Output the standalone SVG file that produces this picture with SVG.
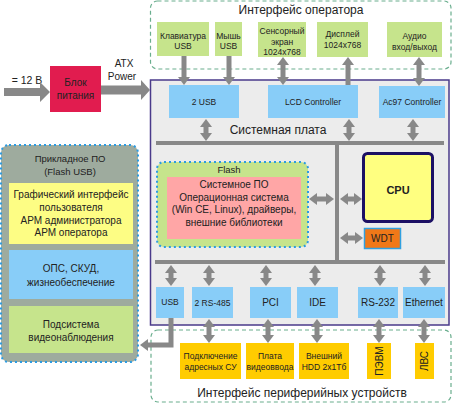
<svg xmlns="http://www.w3.org/2000/svg" width="453" height="404" viewBox="0 0 453 404">
<defs>
<marker id="ah" markerUnits="userSpaceOnUse" markerWidth="8" markerHeight="12" refX="0" refY="6" orient="auto-start-reverse" viewBox="0 0 8 12"><path d="M0,0 L8,6 L0,12 z" fill="#888"/></marker>
<style>
text{font-family:"Liberation Sans",Arial,sans-serif;fill:#222;text-anchor:middle}
.s{font-size:8.5px}
.m{font-size:10px}
.l{font-size:12px}
.g{fill:#c6e48c}
.b{fill:#88cdf8}
.y{fill:#ffcc00}
.ar{stroke:#888;stroke-width:5;fill:none}
.bus{stroke:#888;stroke-width:4;fill:none}
.dash{fill:#fff;stroke:#6aae8e;stroke-width:1.2;stroke-dasharray:4 3}
.dot{stroke:#2b9be2;stroke-width:2;stroke-dasharray:2 3}
</style>
</defs>
<rect width="453" height="404" fill="#fff"/>
<g id="operator-interface">
<rect class="dash" x="150.5" y="1" width="300.5" height="68" rx="7"/>
<text class="l" x="301" y="14">Интерфейс оператора</text>
</g>
<g id="peripheral-interface">
<rect class="dash" x="151" y="330" width="300" height="72" rx="7"/>
<text class="l" x="302" y="397">Интерфейс периферийных устройств</text>
</g>
<g id="board">
<rect x="150.5" y="80" width="298.5" height="245" fill="#ececec" stroke="#4a3a8a" stroke-width="1.5"/>
<text class="l" x="278" y="134">Системная плата</text>
</g>
<g id="keyboard"><rect class="g" x="157" y="22" width="52" height="34"/><text class="s" x="183" y="39">Клавиатура</text><text class="s" x="183" y="49">USB</text></g>
<g id="mouse"><rect class="g" x="215" y="22" width="27" height="34"/><text class="s" x="228.5" y="39">Мышь</text><text class="s" x="228.5" y="49">USB</text></g>
<g id="touch"><rect class="g" x="258" y="22" width="48" height="35"/><text class="s" x="282" y="34">Сенсорный</text><text class="s" x="282" y="44.5">экран</text><text class="s" x="282" y="55">1024x768</text></g>
<g id="display"><rect class="g" x="317" y="22" width="51" height="35"/><text class="s" x="342.5" y="37">Дисплей</text><text class="s" x="342.5" y="48">1024x768</text></g>
<g id="audio"><rect class="g" x="387" y="22" width="55" height="35"/><text class="s" x="414.5" y="39">Аудио</text><text class="s" x="414.5" y="50">вход/выход</text></g>
<g id="power-in"><text style="font-size:10.5px" x="27" y="84">= 12 В</text></g>
<g id="psu"><rect x="50" y="66" width="51" height="46" fill="#e11c4f"/><text class="m" x="75.5" y="86">Блок</text><text class="m" x="75.5" y="98.5">питания</text></g>
<g id="atx-label"><text class="m" x="124" y="67">ATX</text><text class="m" x="122" y="80">Power</text></g>
<g id="usb2"><rect class="b" x="169" y="85" width="70" height="33"/><text class="s" x="204" y="105">2 USB</text></g>
<g id="lcd"><rect class="b" x="268" y="85" width="90" height="33"/><text class="s" x="313" y="105">LCD Controller</text></g>
<g id="ac97"><rect class="b" x="379" y="86" width="66" height="32"/><text class="s" x="412" y="105">Ac97 Controller</text></g>
<g id="flash">
<rect x="157" y="162" width="151" height="85" rx="7" fill="#c6e48c" class="dot"/>
<text style="font-size:9.5px" x="229" y="173">Flash</text>
<rect x="167" y="177" width="134" height="62" fill="#ffa6a6"/>
<text class="m" x="234" y="188">Системное ПО</text>
<text class="m" x="234" y="200.5">Операционная система</text>
<text class="m" x="234" y="213">(Win CE, Linux), драйверы,</text>
<text class="m" x="234" y="225.5">внешние библиотеки</text>
</g>
<g id="cpu"><rect x="363.5" y="153.5" width="69" height="68" rx="4" fill="#ffff80" stroke="#1c1064" stroke-width="3"/><text x="398" y="194" style="font-size:11px;font-weight:bold">CPU</text></g>
<g id="wdt"><rect x="364.5" y="228.5" width="36" height="20" fill="#f07818" stroke="#30a0e0" stroke-width="1.5"/><text class="m" x="382.5" y="242">WDT</text></g>
<g id="usb"><rect class="b" x="156" y="287" width="28" height="31"/><text class="s" x="170" y="305">USB</text></g>
<g id="rs485"><rect class="b" x="192" y="287" width="41" height="31"/><text class="s" x="212.5" y="306">2 RS-485</text></g>
<g id="pci"><rect class="b" x="250" y="287" width="41" height="31"/><text class="m" x="270.5" y="306">PCI</text></g>
<g id="ide"><rect class="b" x="297" y="287" width="41" height="31"/><text class="m" x="317.5" y="306">IDE</text></g>
<g id="rs232"><rect class="b" x="358" y="287" width="40" height="31"/><text class="m" x="378" y="306">RS-232</text></g>
<g id="ethernet"><rect class="b" x="403" y="287" width="42" height="31"/><text class="m" x="424" y="306">Ethernet</text></g>
<g id="addr"><rect class="y" x="180" y="343" width="61" height="36"/><text class="s" x="210.5" y="359">Подключение</text><text class="s" x="210.5" y="370">адресных СУ</text></g>
<g id="video-in"><rect class="y" x="246" y="343" width="48" height="36"/><text class="s" x="270" y="359">Плата</text><text class="s" x="270" y="370">видеоввода</text></g>
<g id="hdd"><rect class="y" x="299" y="343" width="50" height="36"/><text class="s" x="324" y="359">Внешний</text><text class="s" x="324" y="370">HDD 2x1Тб</text></g>
<g id="pc"><rect class="y" x="367" y="343" width="24" height="36"/><text class="m" transform="translate(382.5,361) rotate(-90)">ПЭВМ</text></g>
<g id="lan"><rect class="y" x="415" y="343" width="19" height="36"/><text class="m" transform="translate(428,361) rotate(-90)">ЛВС</text></g>
<g id="app">
<rect x="1" y="145" width="137" height="217" rx="8" fill="#9eab9e" class="dot"/>
<text style="font-size:9.5px" x="70" y="161.5">Прикладное ПО</text>
<text style="font-size:9.5px" x="70" y="174.5">(Flash USB)</text>
<rect x="9" y="183" width="124" height="61" fill="#fdfd84"/>
<text class="m" x="71" y="197.5">Графический интерфейс</text>
<text class="m" x="71" y="210.5">пользователя</text>
<text class="m" x="71" y="223.5">АРМ администратора</text>
<text class="m" x="71" y="236">АРМ оператора</text>
<rect class="b" x="9" y="250" width="124" height="49"/>
<text class="m" x="71" y="271.5">ОПС, СКУД,</text>
<text class="m" x="71" y="285.5">жизнеобеспечение</text>
<rect class="g" x="9" y="306" width="124" height="47"/>
<text class="m" x="71" y="327.5">Подсистема</text>
<text class="m" x="71" y="341">видеонаблюдения</text>
</g>
<g id="connectors">
<polygon points="4,88 40,88 40,82 50,92 40,102 40,96 4,96" fill="#888"/>
<polygon points="101,85.5 141,85.5 141,80 150,90 141,100 141,94.5 101,94.5" fill="#888"/>
<line class="ar" x1="184" y1="56" x2="184" y2="77" marker-end="url(#ah)"/>
<line class="ar" x1="229" y1="56" x2="229" y2="77" marker-end="url(#ah)"/>
<line class="ar" x1="283" y1="65" x2="283" y2="77" marker-start="url(#ah)" marker-end="url(#ah)"/>
<line class="ar" x1="348" y1="85" x2="348" y2="65" marker-end="url(#ah)"/>
<line class="ar" x1="419" y1="65" x2="419" y2="78" marker-start="url(#ah)" marker-end="url(#ah)"/>
<path class="bus" d="M156,143 H444 M337,143 V262 M155,262 H445"/>
<line class="ar" x1="206" y1="127" x2="206" y2="133" marker-start="url(#ah)" marker-end="url(#ah)"/>
<line class="ar" x1="349" y1="127" x2="349" y2="133" marker-start="url(#ah)" marker-end="url(#ah)"/>
<line class="ar" x1="413" y1="127" x2="413" y2="133" marker-start="url(#ah)" marker-end="url(#ah)"/>
<line class="ar" x1="317" y1="199" x2="326" y2="199" marker-start="url(#ah)" marker-end="url(#ah)"/>
<line class="ar" x1="348" y1="199" x2="354" y2="199" marker-start="url(#ah)" marker-end="url(#ah)"/>
<line class="ar" x1="348" y1="238" x2="355" y2="238" marker-start="url(#ah)" marker-end="url(#ah)"/>
<line class="ar" x1="171" y1="273" x2="171" y2="278" marker-start="url(#ah)" marker-end="url(#ah)"/>
<line class="ar" x1="209" y1="273" x2="209" y2="278" marker-start="url(#ah)" marker-end="url(#ah)"/>
<line class="ar" x1="266" y1="273" x2="266" y2="278" marker-start="url(#ah)" marker-end="url(#ah)"/>
<line class="ar" x1="315" y1="273" x2="315" y2="278" marker-start="url(#ah)" marker-end="url(#ah)"/>
<line class="ar" x1="380" y1="273" x2="380" y2="278" marker-start="url(#ah)" marker-end="url(#ah)"/>
<line class="ar" x1="425" y1="273" x2="425" y2="278" marker-start="url(#ah)" marker-end="url(#ah)"/>
<line class="ar" x1="209" y1="327" x2="209" y2="335" marker-start="url(#ah)" marker-end="url(#ah)"/>
<line class="ar" x1="268" y1="327" x2="268" y2="335" marker-start="url(#ah)" marker-end="url(#ah)"/>
<line class="ar" x1="317" y1="327" x2="317" y2="335" marker-start="url(#ah)" marker-end="url(#ah)"/>
<line class="ar" x1="379" y1="327" x2="379" y2="335" marker-start="url(#ah)" marker-end="url(#ah)"/>
<line class="ar" x1="424" y1="327" x2="424" y2="335" marker-start="url(#ah)" marker-end="url(#ah)"/>
<path class="ar" d="M171,318 V345 H148" marker-end="url(#ah)"/>
</g>
</svg>
